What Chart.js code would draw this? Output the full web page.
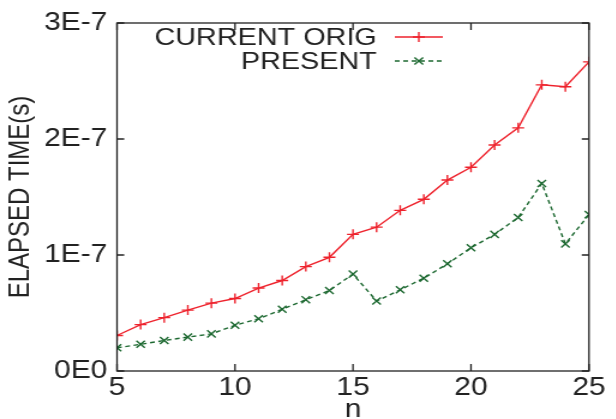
<!DOCTYPE html>
<html>
<head>
<meta charset="utf-8">
<script src="https://cdn.jsdelivr.net/npm/chart.js@4/dist/chart.umd.min.js"></script>
<style>
  html, body { margin: 0; padding: 0; background: #fff; overflow: hidden; }
  /* the reference is a gnuplot image stretched ~1.2x horizontally */
  #wrap { width: 513.33px; height: 419px; transform: scaleX(1.2); transform-origin: 0 0; }
</style>
</head>
<body>
<div id="wrap"><canvas id="c"></canvas></div>
<script>
// values
const nValues = [5, 6, 7, 8, 9, 10, 11, 12, 13, 14, 15, 16, 17, 18, 19, 20, 21, 22, 23, 24, 25];
const currentOrig = [3.06e-8, 4.0e-8, 4.6e-8, 5.25e-8, 5.85e-8, 6.25e-8, 7.15e-8, 7.8e-8, 9.0e-8, 9.8e-8,
  1.178e-7, 1.24e-7, 1.385e-7, 1.48e-7, 1.646e-7, 1.756e-7, 1.948e-7, 2.096e-7, 2.467e-7, 2.45e-7, 2.665e-7];
const present = [2.0e-8, 2.3e-8, 2.63e-8, 2.92e-8, 3.2e-8, 3.94e-8, 4.5e-8, 5.32e-8, 6.15e-8, 6.94e-8,
  8.35e-8, 6.03e-8, 7.0e-8, 8.0e-8, 9.24e-8, 1.062e-7, 1.178e-7, 1.323e-7, 1.617e-7, 1.096e-7, 1.348e-7];
const yTickLabels = ['0E0', '1E-7', '2E-7', '3E-7'];
const xTicks = [5, 10, 15, 20, 25];

const RED = 'rgb(238,34,44)';
const GREEN = 'rgb(28,104,48)';
const FONT = '"Liberation Sans", Arial, sans-serif';

// gnuplot-style frame with inward ticks on all four sides
const framePlugin = {
  id: 'frame',
  afterDraw(chart) {
    const ctx = chart.ctx;
    const a = chart.chartArea;
    const xs = chart.scales.x, ys = chart.scales.y;
    ctx.save();
    ctx.strokeStyle = '#222';
    ctx.lineWidth = 1.3;
    ctx.strokeRect(a.left, a.top, a.right - a.left, a.bottom - a.top);
    ctx.beginPath();
    xs.ticks.forEach(t => {
      const px = xs.getPixelForValue(t.value);
      ctx.moveTo(px, a.bottom); ctx.lineTo(px, a.bottom - 7);
      ctx.moveTo(px, a.top); ctx.lineTo(px, a.top + 7);
    });
    ys.ticks.forEach(t => {
      const py = ys.getPixelForValue(t.value);
      ctx.moveTo(a.left, py); ctx.lineTo(a.left + 6, py);
      ctx.moveTo(a.right, py); ctx.lineTo(a.right - 6, py);
    });
    ctx.stroke();
    ctx.restore();
  }
};

// legend drawn like gnuplot's: right-aligned text, sample line to the right
const keyPlugin = {
  id: 'key',
  afterDraw(chart) {
    const ctx = chart.ctx;
    const rows = [37, 61];
    const textRight = 314, x0 = 329, x1 = 369;
    ctx.save();
    ctx.font = '24px ' + FONT;
    ctx.textAlign = 'right';
    ctx.textBaseline = 'middle';
    chart.data.datasets.forEach((ds, i) => {
      const y = rows[i];
      ctx.fillStyle = '#222';
      ctx.fillText(ds.label, textRight, y + 1);
      ctx.strokeStyle = ds.borderColor;
      ctx.lineWidth = 1.4;
      ctx.setLineDash(ds.borderDash || []);
      ctx.beginPath(); ctx.moveTo(x0, y); ctx.lineTo(x1, y); ctx.stroke();
      ctx.setLineDash([]);
      const cx = (x0 + x1) / 2, r = ds.pointRadius;
      ctx.beginPath();
      if (ds.pointStyle === 'cross') {
        ctx.moveTo(cx - r, y); ctx.lineTo(cx + r, y);
        ctx.moveTo(cx, y - r); ctx.lineTo(cx, y + r);
      } else {
        const d = r * 0.72;
        ctx.moveTo(cx - d, y - d); ctx.lineTo(cx + d, y + d);
        ctx.moveTo(cx - d, y + d); ctx.lineTo(cx + d, y - d);
      }
      ctx.stroke();
    });
    ctx.restore();
  }
};

new Chart(document.getElementById('c'), {
  type: 'line',
  data: {
    datasets: [
      {
        label: 'CURRENT ORIG',
        data: nValues.map((n, i) => ({ x: n, y: currentOrig[i] })),
        borderColor: RED,
        backgroundColor: RED,
        borderWidth: 1.4,
        pointStyle: 'cross',
        pointRadius: 5,
        pointBorderWidth: 1.4,
        tension: 0
      },
      {
        label: 'PRESENT',
        data: nValues.map((n, i) => ({ x: n, y: present[i] })),
        borderColor: GREEN,
        backgroundColor: GREEN,
        borderWidth: 1.4,
        borderDash: [4, 3],
        pointStyle: 'crossRot',
        pointRadius: 5,
        pointBorderWidth: 1.4,
        tension: 0
      }
    ]
  },
  options: {
    responsive: true,
    maintainAspectRatio: false,
    animation: false,
    layout: { padding: { top: 18, right: 22.5, left: 0, bottom: -6 } },
    plugins: {
      legend: { display: false },
      tooltip: { enabled: false }
    },
    scales: {
      x: {
        type: 'linear',
        min: 5,
        max: 25,
        afterBuildTicks: s => { s.ticks = xTicks.map(v => ({ value: v })); },
        grid: { display: false, drawTicks: false },
        border: { display: false },
        ticks: { color: '#222', font: { family: FONT, size: 25 }, padding: 2, maxRotation: 0 },
        title: { display: true, text: 'n', color: '#222', font: { family: FONT, size: 25 }, padding: { top: 0, bottom: 0 } },
        afterFit: s => { s.height = 54; }
      },
      y: {
        min: 0,
        max: 3e-7,
        afterBuildTicks: s => { s.ticks = yTickLabels.map((l, i) => ({ value: i * 1e-7 })); },
        grid: { display: false, drawTicks: false },
        border: { display: false },
        ticks: {
          color: '#222',
          font: { family: FONT, size: 25 },
          padding: 8,
          callback: (v, i) => yTickLabels[i]
        },
        title: { display: true, text: 'ELAPSED TIME(s)', color: '#222', font: { family: FONT, size: 24 }, padding: { top: 3, bottom: 0 } },
        afterFit: s => { s.width = 97.5; }
      }
    }
  },
  plugins: [framePlugin, keyPlugin]
});
</script>
</body>
</html>
